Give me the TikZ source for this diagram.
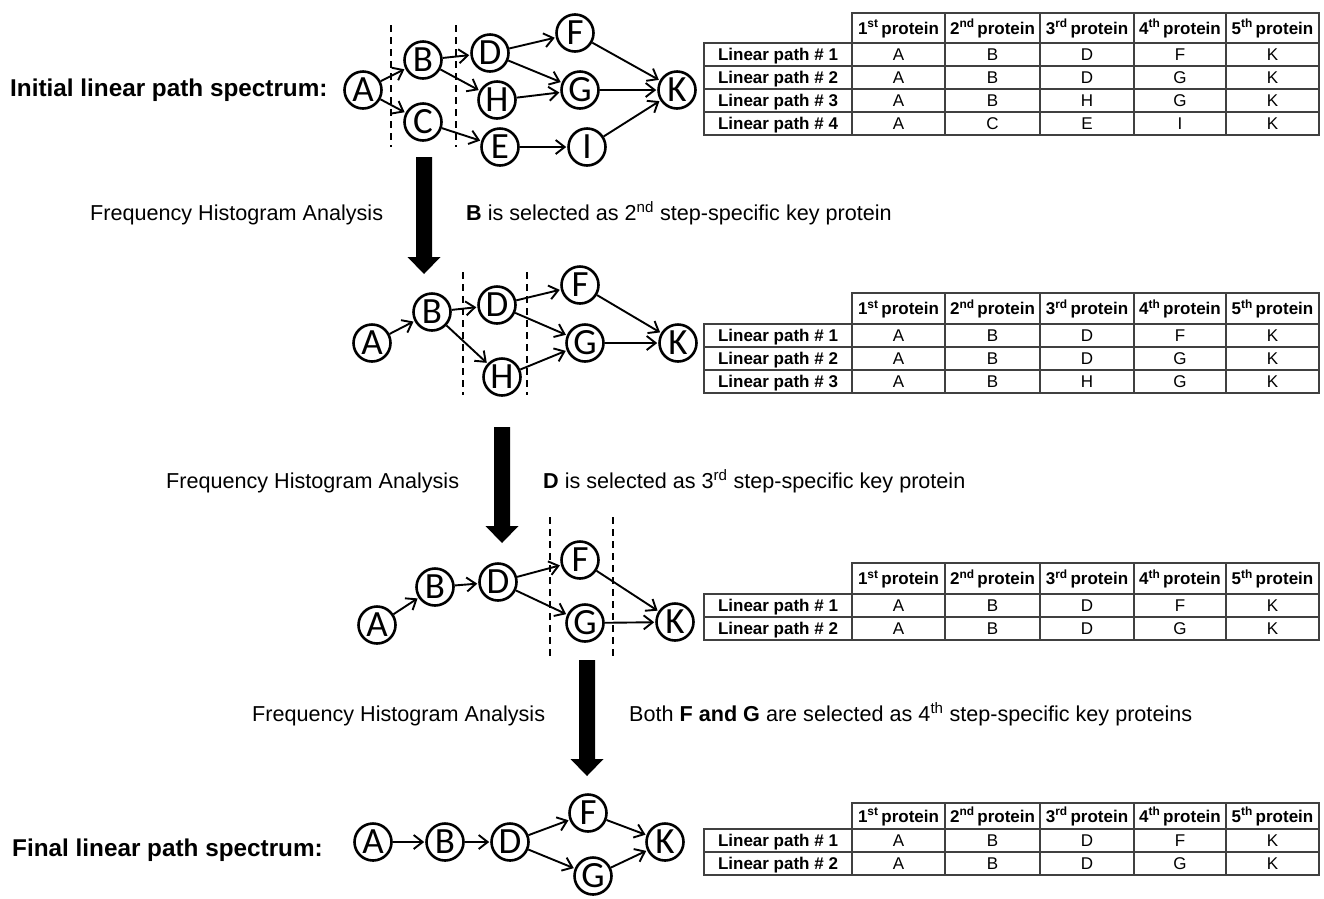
\documentclass[tikz,border=0pt]{standalone}
\usepackage{fontspec}
\setmainfont{Liberation Sans}
\newfontfamily\nodefont{Carlito}
\usetikzlibrary{arrows.meta}

\tikzset{
  prot/.style={circle, draw, line width=2.6pt, minimum size=37pt, inner sep=0pt,
    font=\nodefont\fontsize{37}{37}\selectfont},
  link/.style={-{Straight Barb[length=9pt,width=14pt]}, line width=1.9pt, shorten >=1pt},
  cut/.style={dash pattern=on 7pt off 5pt, line width=1.8pt},
  steptext/.style={anchor=base west, inner sep=0pt, font=\fontsize{21.6}{25}\selectfont},
  titletext/.style={anchor=base west, inner sep=0pt, font=\bfseries\fontsize{24.3}{28}\selectfont},
  hcell/.style={anchor=base, inner sep=0pt, font=\bfseries\fontsize{17}{20}\selectfont},
  dcell/.style={anchor=base, inner sep=0pt, font=\fontsize{17}{20}\selectfont},
  gridline/.style={draw=black!75, line width=1.3pt}
}

% thick downward block arrow: centre x, top y, tip y
\newcommand\keyarrow[3]{%
  \fill (#1-8,#2) -- (#1+8,#2) -- (#1+8,#3-17) -- (#1+16.5,#3-17) -- (#1,#3)
    -- (#1-16.5,#3-17) -- (#1-8,#3-17) -- cycle;}

% table of linear paths: id, top y, header bottom y, rows
\newcommand\proteintable[4]{%
  \foreach \xl/\xr/\num/\suf [count=\k] in
      {852/945/1/st,945/1040/2/nd,1040/1134/3/rd,1134/1226/4/th,1226/1319/5/th}{
    \draw[gridline] (\xl,#2) rectangle (\xr,#3);
    \node[hcell] (#1-h\k) at ({(\xl+\xr)/2},{(#2+#3)/2+6})
      {\num\textsuperscript{\suf}\,protein};
  }
  \foreach \pa/\pb/\pc/\pd/\pe [count=\r] in {#4}{
    \pgfmathsetmacro\ytop{#3+23*(\r-1)}
    \pgfmathsetmacro\ybot{#3+23*\r}
    \pgfmathsetmacro\ybase{#3+23*\r-11.5+6}
    \draw[gridline] (704,\ytop) rectangle (852,\ybot);
    \node[hcell] (#1-r\r) at (778,\ybase) {Linear path \# \r};
    \foreach \v/\xl/\xr [count=\k] in
        {\pa/852/945,\pb/945/1040,\pc/1040/1134,\pd/1134/1226,\pe/1226/1319}{
      \draw[gridline] (\xl,\ytop) rectangle (\xr,\ybot);
      \node[dcell] (#1-r\r-c\k) at ({(\xl+\xr)/2},\ybase) {\v};
    }
  }
}

\begin{document}
\begin{tikzpicture}[x=1pt, y=-1pt]
\useasboundingbox (0,0) rectangle (1324,898);

% ---------- initial spectrum ----------
\node[titletext] (title1) at (10,96.5) {Initial linear path spectrum:};
\draw[cut] (391,25) -- (391,147);
\draw[cut] (456,25) -- (456,147);
\node[prot] (a1) at (363,90) {A};
\node[prot] (b1) at (423,60) {B};
\node[prot] (c1) at (423,122) {C};
\node[prot] (d1) at (490,53) {D};
\node[prot] (h1) at (497,100) {H};
\node[prot] (e1) at (500,147) {E};
\node[prot] (f1) at (575,33) {F};
\node[prot] (g1) at (580,90) {G};
\node[prot] (i1) at (587,147) {I};
\node[prot] (k1) at (677,90) {K};
\foreach \s/\t in {a1/b1,a1/c1,b1/d1,b1/h1,c1/e1,d1/f1,d1/g1,h1/g1,e1/i1,f1/k1,g1/k1,i1/k1}
  \draw[link] (\s) -- (\t);
\proteintable{t1}{13}{43}{A/B/D/F/K,A/B/D/G/K,A/B/H/G/K,A/C/E/I/K}

% ---------- step 1 ----------
\keyarrow{424}{157}{274}
\node[steptext] (fha1) at (90,220.5) {Frequency Histogram Analysis};
\node[steptext] (sel1) at (466,220.5)
  {\textbf{B} is selected as 2\textsuperscript{nd} step-specific key protein};

% ---------- after step 1 ----------
\draw[cut] (463,272) -- (463,395);
\draw[cut] (527,272) -- (527,395);
\node[prot] (a2) at (372,343) {A};
\node[prot] (b2) at (432,312) {B};
\node[prot] (d2) at (497,305) {D};
\node[prot] (h2) at (502,377) {H};
\node[prot] (f2) at (580,285) {F};
\node[prot] (g2) at (585,343) {G};
\node[prot] (k2) at (678,343) {K};
\foreach \s/\t in {a2/b2,b2/d2,b2/h2,d2/f2,d2/g2,h2/g2,f2/k2,g2/k2}
  \draw[link] (\s) -- (\t);
\proteintable{t2}{293}{324}{A/B/D/F/K,A/B/D/G/K,A/B/H/G/K}

% ---------- step 2 ----------
\keyarrow{502}{427}{543}
\node[steptext] (fha2) at (166,488.5) {Frequency Histogram Analysis};
\node[steptext] (sel2) at (543,488.5)
  {\textbf{D} is selected as 3\textsuperscript{rd} step-specific key protein};

% ---------- after step 2 ----------
\draw[cut] (550,517) -- (550,657);
\draw[cut] (613,517) -- (613,657);
\node[prot] (a3) at (377,625) {A};
\node[prot] (b3) at (435,587) {B};
\node[prot] (d3) at (498,582) {D};
\node[prot] (f3) at (580,560) {F};
\node[prot] (g3) at (585,623) {G};
\node[prot] (k3) at (675,622) {K};
\foreach \s/\t in {a3/b3,b3/d3,d3/f3,d3/g3,f3/k3,g3/k3}
  \draw[link] (\s) -- (\t);
\proteintable{t3}{563}{594}{A/B/D/F/K,A/B/D/G/K}

% ---------- step 3 ----------
\keyarrow{587}{660}{776}
\node[steptext] (fha3) at (252,721.5) {Frequency Histogram Analysis};
\node[steptext] (sel3) at (629,721.5)
  {Both \textbf{F and G} are selected as 4\textsuperscript{th} step-specific key proteins};

% ---------- final spectrum ----------
\node[titletext] (title2) at (12,856.5) {Final linear path spectrum:};
\node[prot] (a4) at (373,842) {A};
\node[prot] (b4) at (445,842) {B};
\node[prot] (d4) at (510,842) {D};
\node[prot] (f4) at (588,813) {F};
\node[prot] (g4) at (593,876) {G};
\node[prot] (k4) at (665,842) {K};
\foreach \s/\t in {a4/b4,b4/d4,d4/f4,d4/g4,f4/k4,g4/k4}
  \draw[link] (\s) -- (\t);
\proteintable{t4}{803}{829}{A/B/D/F/K,A/B/D/G/K}
\end{tikzpicture}
\end{document}
